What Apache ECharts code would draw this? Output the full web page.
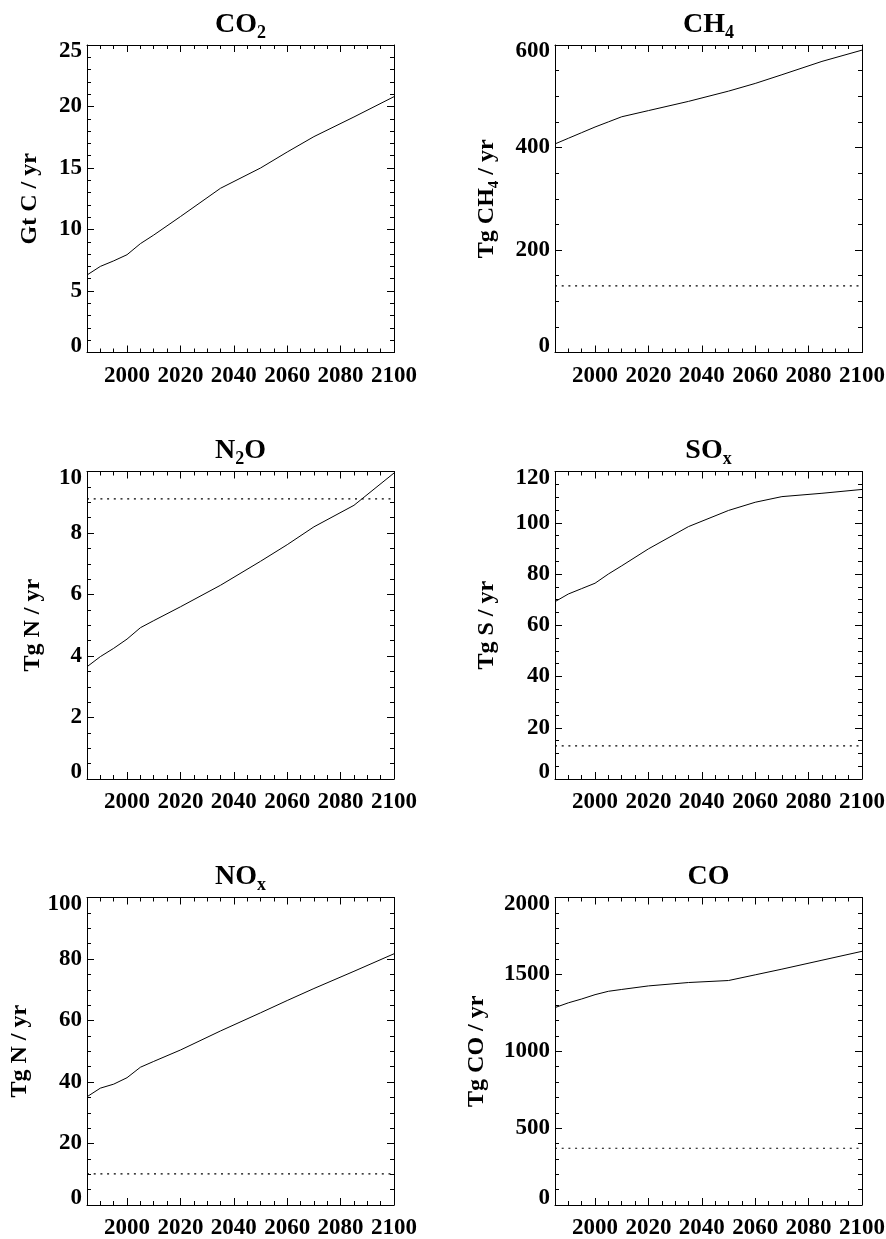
<!DOCTYPE html>
<html>
<head>
<meta charset="utf-8">
<script src="https://cdn.jsdelivr.net/npm/echarts@6/dist/echarts.min.js"></script>
<style>
  html, body { margin: 0; padding: 0; background: #ffffff; }
  #chart { width: 886px; height: 1239px; }
</style>
</head>
<body>
<div id="chart"></div>
<script>
// Projected annual emissions, 1985-2100 (solid) with natural source level (dotted)
const years = [1985, 1990, 1995, 2000, 2005, 2010, 2020, 2035, 2050, 2060, 2070, 2085, 2100];
const yearSpan = [1985, 2100];
const yearTicks = [2000, 2020, 2040, 2060, 2080, 2100];

const co2 = [6.3, 7.0, 7.45, 7.95, 8.85, 9.55, 11.05, 13.35, 15.0, 16.3, 17.55, 19.15, 20.8];
const ch4 = [407, 418, 429, 440, 450, 460, 472, 490, 510, 525, 542, 568, 590];
const n2o = [3.65, 3.98, 4.25, 4.55, 4.92, 5.15, 5.6, 6.3, 7.08, 7.62, 8.2, 8.9, 9.95];
const sox = [69.2, 72.2, 74.3, 76.4, 80.0, 83.2, 89.8, 98.5, 104.8, 108.0, 110.2, 111.5, 113.0];
const nox = [35.2, 38.0, 39.3, 41.4, 44.8, 46.7, 50.4, 56.6, 62.5, 66.5, 70.4, 76.0, 81.7];
const co  = [1284, 1315, 1340, 1368, 1390, 1402, 1425, 1447, 1460, 1497, 1534, 1592, 1650];

// Natural emission levels (no level drawn for CO2)
const naturalLevel = [null, 130, 9.11, 12.9, 10.1, 369];

// Panel order: CO2, CH4, N2O, SOx, NOx, CO
const panelValues = [co2, ch4, n2o, sox, nox, co];
const panelTitles = ['{m|CO}{s|2}', '{m|CH}{s|4}', '{m|N}{s|2}{m|O}', '{m|SO}{s|x}', '{m|NO}{s|x}', '{m|CO}'];
const panelUnits = ['{m|Gt C / yr}', '{m|Tg CH}{s|4}{m| / yr}', '{m|Tg N / yr}', '{m|Tg S / yr}', '{m|Tg N / yr}', '{m|Tg CO / yr}'];
const yMax = [25, 600, 10, 120, 100, 2000];
const yStep = [5, 200, 2, 20, 20, 500];
const yMinorSplit = [5, 4, 4, 4, 4, 5];

// Layout
const colLeft = [87, 555];
const rowTop = [45, 471.5, 897.5];
const boxW = 307, boxH = 307.5;
const unitGap = [45, 53.6, 42, 56, 55, 66];
const titleGap = [3, 3, 3, 3, 3, 6.5];

const FONT = '"Liberation Serif", "Times New Roman", serif';
const ink = '#000000';
const inkLine = { color: ink, width: 1 };

// Subscripts: both pieces hang from the line top; the top padding drops the small glyph below the baseline
const titleRich = {
  m: { fontFamily: FONT, fontWeight: 'bold', fontSize: 28, lineHeight: 28, verticalAlign: 'top', color: ink },
  s: { fontFamily: FONT, fontWeight: 'bold', fontSize: 18, verticalAlign: 'top', padding: [13.4, 0, 0, 0], color: ink }
};
const unitRich = {
  m: { fontFamily: FONT, fontWeight: 'bold', fontSize: 24, lineHeight: 24, verticalAlign: 'top', color: ink },
  s: { fontFamily: FONT, fontWeight: 'bold', fontSize: 15, verticalAlign: 'top', padding: [11.4, 0, 0, 0], color: ink }
};
const tickFont = { color: ink, fontFamily: FONT, fontWeight: 'bold', fontSize: 23 };
const plain = v => String(v);

const grids = [], xAxes = [], yAxes = [], series = [];

panelValues.forEach((vals, i) => {
  const col = i % 2, row = Math.floor(i / 2);
  grids.push({
    left: colLeft[col], top: rowTop[row], width: boxW, height: boxH,
    containLabel: false, outerBoundsMode: 'none'
  });

  const xBase = {
    gridIndex: i, type: 'value', min: yearSpan[0], max: yearSpan[1],
    splitLine: { show: false },
    axisLine: { show: false, onZero: false },
    axisLabel: { show: false },
    axisTick: { show: false }
  };
  const xMajorLine = { show: true, onZero: false, lineStyle: inkLine };
  const xMajorTick = { show: true, inside: true, length: 7, customValues: yearTicks, lineStyle: inkLine };
  const xMinorTick = { show: true, inside: true, length: 4, lineStyle: inkLine };

  // bottom: labelled major ticks, then 5-year minor ticks
  xAxes.push(Object.assign({}, xBase, {
    position: 'bottom', axisLine: xMajorLine, axisTick: xMajorTick,
    axisLabel: Object.assign({ show: true, customValues: yearTicks, margin: 12, formatter: plain }, tickFont)
  }));
  xAxes.push(Object.assign({}, xBase, { position: 'bottom', interval: 5, axisTick: xMinorTick }));
  // top: frame edge with the panel title
  xAxes.push(Object.assign({}, xBase, {
    position: 'top', axisLine: xMajorLine, axisTick: xMajorTick,
    name: panelTitles[i], nameLocation: 'middle', nameGap: titleGap[i],
    nameTextStyle: { rich: titleRich }
  }));
  xAxes.push(Object.assign({}, xBase, { position: 'top', interval: 5, axisTick: xMinorTick }));

  const yBase = {
    gridIndex: i, type: 'value', min: 0, max: yMax[i], interval: yStep[i],
    splitLine: { show: false },
    axisLine: { show: true, onZero: false, lineStyle: inkLine },
    axisTick: { show: true, inside: true, length: 7, lineStyle: inkLine },
    minorTick: { show: true, splitNumber: yMinorSplit[i], length: 4, lineStyle: inkLine }
  };
  yAxes.push(Object.assign({}, yBase, {
    position: 'left',
    axisLabel: Object.assign({
      show: true, margin: 5, formatter: plain, lineHeight: 13,
      verticalAlignMinLabel: 'bottom', verticalAlignMaxLabel: 'top'
    }, tickFont),
    name: panelUnits[i], nameLocation: 'middle', nameRotate: 90, nameGap: unitGap[i],
    nameTextStyle: { rich: unitRich }
  }));
  yAxes.push(Object.assign({}, yBase, { position: 'right', axisLabel: { show: false } }));

  series.push({
    type: 'line', xAxisIndex: 4 * i, yAxisIndex: 2 * i,
    data: years.map((yr, k) => [yr, vals[k]]),
    showSymbol: false, symbol: 'none', silent: true,
    lineStyle: { color: ink, width: 1 }
  });
  if (naturalLevel[i] !== null) {
    series.push({
      type: 'line', xAxisIndex: 4 * i, yAxisIndex: 2 * i,
      data: yearSpan.map(yr => [yr, naturalLevel[i]]),
      showSymbol: false, symbol: 'none', silent: true,
      lineStyle: { color: ink, width: 1.2, type: [2, 4.7] }
    });
  }
});

const chart = echarts.init(document.getElementById('chart'), null, { renderer: 'canvas' });
chart.setOption({
  backgroundColor: '#ffffff',
  animation: false,
  grid: grids,
  xAxis: xAxes,
  yAxis: yAxes,
  series: series
});
</script>
</body>
</html>
